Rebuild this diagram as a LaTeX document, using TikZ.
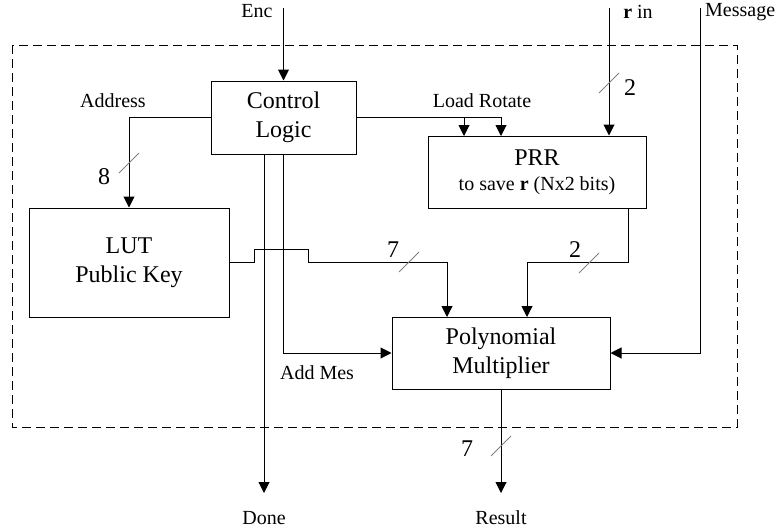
\documentclass[tikz,border=0pt]{standalone}
\usepackage{fontspec}
\setmainfont{Liberation Serif}
\usetikzlibrary{arrows.meta,calc}

\begin{document}
\begin{tikzpicture}[x=1pt,y=-1pt,>={Triangle[width=11pt,length=11pt]}]
\tikzset{block/.style={draw,line width=1pt,align=center,font=\fontsize{24}{29}\selectfont},
  sig/.style={line width=1pt},
  lbl/.style={font=\fontsize{20}{22}\selectfont,inner sep=0pt},
  buswd/.style={font=\fontsize{24}{26}\selectfont,inner sep=0pt},
  busmark/.style={gray,line width=0.9pt}}
\useasboundingbox (0,0) rectangle (779,530);

% dashed frame
\draw[dash pattern=on 9pt off 5pt,line width=1pt] (12,45) rectangle (737,427);

% blocks
\node[block,minimum width=145pt,minimum height=73pt] (ctrl) at (283.5,117.5) {Control\\Logic};
\node[block,minimum width=218pt,minimum height=72pt] (prr) at (537,172)
  {PRR\\[-4pt]{\fontsize{20}{24}\selectfont to save \textbf{r} (Nx2 bits)}};
\node[block,minimum width=200pt,minimum height=109pt] (lut) at (129,262.5) {LUT\\Public Key};
\node[block,minimum width=218pt,minimum height=72pt] (poly) at (501,353) {Polynomial\\Multiplier};

% ports
\coordinate (enc) at (283.5,8);
\coordinate (rin) at (609,8);
\coordinate (msg) at (700,8);
\coordinate (done) at (264,493);
\coordinate (res) at (501,493);
\coordinate (ld) at (464,136);
\coordinate (rot) at (501,136);
\coordinate (prrout) at (628,208);
\coordinate (pin1) at (447,317);
\coordinate (pin2) at (527,317);

% connections
\draw[sig,->] (enc) -- (ctrl.north);
\draw[sig,->] (ctrl.west) -| (lut.north);
\draw[sig,->] (ctrl.east) -| (rot);
\draw[sig,->] (ctrl.east -| ld) -- (ld);
\draw[sig,->] (rin) -- (rin |- prr.north);
\draw[sig,->] (msg) |- (poly.east);
\draw[sig,->] (prrout) -- ++(0,54) -| (pin2);
\draw[sig,->] (lut.east) -- ++(25,0) -- ++(0,-13) -- ++(54,0) -- ++(0,13) -| (pin1);
\draw[sig,->] (ctrl.south -| done) -- (done);
\draw[sig,->] (ctrl.south) |- (poly.west);
\draw[sig,->] (poly.south) -- (res);

% bus widths
\foreach \p in {(129,163),(609,83),(589,263),(409,262),(501,446)}
  \draw[busmark] \p ++(-10,10) -- ++(20,-20);
\node[buswd] (w8) at (104,177) {8};
\node[buswd] (w2a) at (630,88) {2};
\node[buswd] (w2b) at (575,250) {2};
\node[buswd] (w7a) at (393,250) {7};
\node[buswd] (w7b) at (467,449) {7};

% labels
\node[lbl] (lenc) at (257,11) {Enc};
\node[lbl] (lrin) at (638,12) {\textbf{r} in};
\node[lbl,anchor=west] (lmsg) at (705,12) {Message};
\node[lbl] (laddr) at (113,101) {Address};
\node[lbl] (lload) at (482,101) {Load Rotate};
\node[lbl] (ladd) at (317,373) {Add Mes};
\node[lbl] (ldone) at (264,518) {Done};
\node[lbl] (lres) at (501,518) {Result};
\end{tikzpicture}
\end{document}
